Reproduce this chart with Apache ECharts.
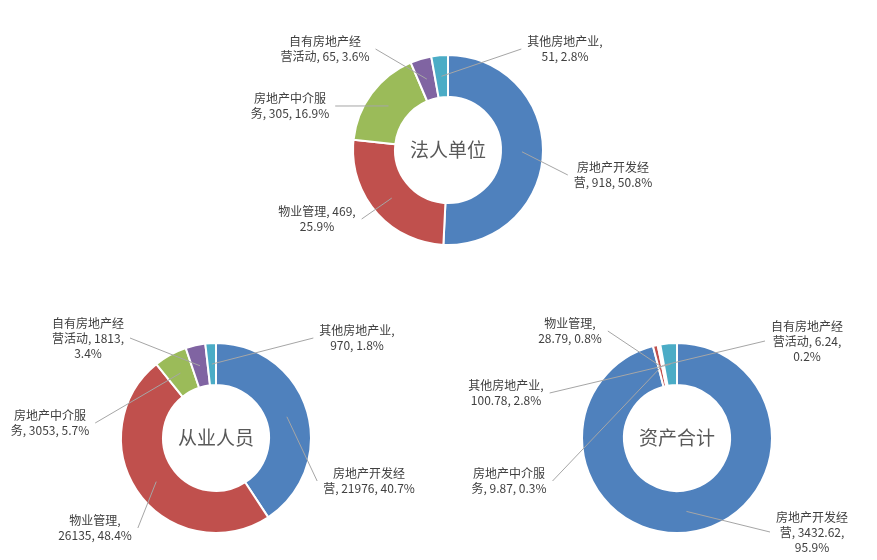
<!DOCTYPE html>
<html><head><meta charset="utf-8">
<script src="https://cdn.jsdelivr.net/npm/echarts@6/dist/echarts.min.js"></script>
<style>html,body{margin:0;padding:0;background:#fff}#c{width:877px;height:560px}</style>
</head><body><div id="c"></div>
<script>
// ---- data ----
const categories = ['房地产开发经营', '物业管理', '房地产中介服务', '自有房地产经营活动', '其他房地产业'];
const chartTitles = ['法人单位', '从业人员', '资产合计'];
const legalUnits = [918, 469, 305, 65, 51];
const employees = [21976, 26135, 3053, 1813, 970];
const totalAssets = [3432.62, 28.79, 9.87, 6.24, 100.78];
const seriesValues = [legalUnits, employees, totalAssets];

// ---- styles / layout ----
const colors = ['#4F81BD', '#C0504D', '#9BBB59', '#8064A2', '#4BACC6'];
const FONT = "'Noto Sans CJK SC', sans-serif";
const pieCenters = [[448, 150], [216, 438], [677, 438]];
const R_IN = 53, R_OUT = 95, R_MID = 74;
const labelPos = [
  [[613, 175], [317, 219], [290, 106], [325, 49], [565, 49]],
  [[369, 481], [95, 528], [50, 423], [88, 338], [357, 338]],
  [[812, 532], [570, 331], [509, 481], [807, 341], [506, 393]]
];
const labelBreaks = [
  [[6], [10], [6], [6], [7]],
  [[6], [5], [6], [6, 16], [7]],
  [[6, 17], [5], [6], [6, 16], [7]]
];

function wrapText(s, breaks) {
  const out = [];
  let prev = 0;
  breaks.forEach(b => { out.push(s.slice(prev, b).trim()); prev = b; });
  out.push(s.slice(prev).trim());
  return out.join('\n');
}

const series = [];
seriesValues.forEach((vals, k) => {
  const data = categories.map((n, i) => ({ name: n, value: vals[i] }));
  series.push({
    type: 'pie', silent: true, animation: false,
    center: pieCenters[k], radius: [R_IN, R_OUT],
    startAngle: 90, clockwise: true,
    label: { show: false }, labelLine: { show: false },
    itemStyle: { borderColor: '#ffffff', borderWidth: 2 },
    data: data
  });
});
seriesValues.forEach((vals, k) => {
  const data = categories.map((n, i) => ({ name: n, value: vals[i] }));
  const total = vals.reduce((a, b) => a + b, 0);
  series.push({
    type: 'pie', silent: true, animation: false, z: 5,
    center: pieCenters[k], radius: [0, R_MID],
    startAngle: 90, clockwise: true,
    percentPrecision: 1,
    avoidLabelOverlap: false,
    itemStyle: { color: 'rgba(0,0,0,0)', borderWidth: 0 },
    label: {
      show: true, position: 'outside', color: '#404040', fontSize: 12, lineHeight: 15, fontFamily: FONT,
      formatter: p => wrapText(`${p.name}, ${p.value}, ${p.percent}%`, labelBreaks[k][p.dataIndex])
    },
    labelLine: { show: true, length: 5, length2: 0, lineStyle: { color: '#a6a6a6', width: 1 } },
    labelLayout: params => {
      const i = params.dataIndex;
      const [lx, ly] = labelPos[k][i];
      const [cx, cy] = pieCenters[k];
      const w = params.labelRect.width;
      const ax = lx < cx ? lx + w / 2 + 6 : lx - w / 2 - 6;
      let p0 = params.labelLinePoints && params.labelLinePoints[0];
      if (!p0) {
        let cum = 0;
        for (let j = 0; j < i; j++) cum += vals[j];
        const frac = (cum + vals[i] / 2) / total;
        const ang = Math.PI / 2 - frac * 2 * Math.PI;
        p0 = [cx + R_MID * Math.cos(ang), cy - R_MID * Math.sin(ang)];
      }
      return { x: lx, y: ly, align: 'center', verticalAlign: 'middle',
               labelLinePoints: [p0, [ax, ly], [ax, ly]] };
    },
    emphasis: { disabled: true },
    data: data
  });
});

const graphic = chartTitles.map((t, k) => ({
  type: 'text', x: pieCenters[k][0], y: pieCenters[k][1], z: 10,
  style: { text: t, align: 'center', verticalAlign: 'middle', fill: '#595959', fontSize: 19, fontFamily: FONT }
}));

const chart = echarts.init(document.getElementById('c'), null, { renderer: 'canvas' });
chart.setOption({
  backgroundColor: '#ffffff',
  color: colors,
  animation: false,
  series: series,
  graphic: graphic
});
</script>
</body></html>
